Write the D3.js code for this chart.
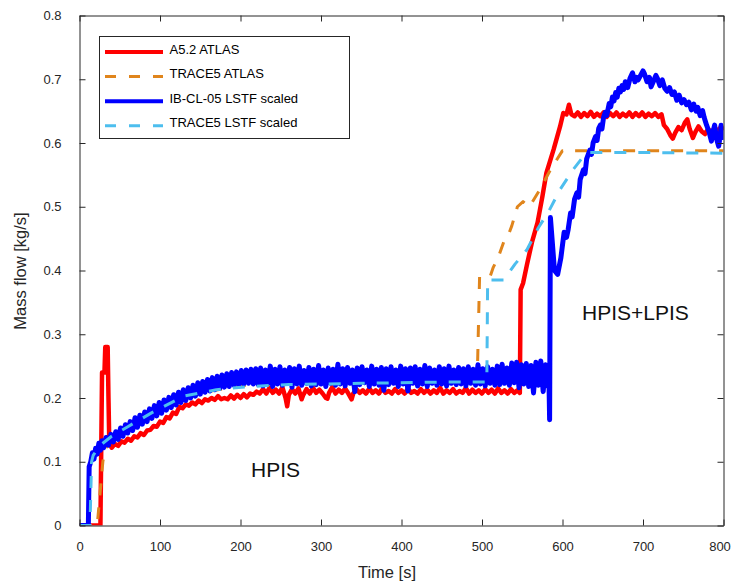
<!DOCTYPE html>
<html>
<head>
<meta charset="utf-8">
<script src="https://cdn.jsdelivr.net/npm/d3@7"></script>
<style>
  body { margin: 0; background: #fff; }
  svg { display: block; font-family: "Liberation Sans", Arial, Helvetica, sans-serif; }
  .axis path, .axis line { stroke: #262626; }
  .axis text { fill: #262626; font-size: 13px; }
</style>
</head>
<body>
<div id="chartContainer"></div>
<script>
// [time s, mass flow kg/s]
const atlasA52 = [
  [0,0],[26,0],[27,0.12],[28,0.24],[31,0.24],[32,0.28],[35,0.28],[36,0.2],[37,0.13],[40,0.122],[44,0.128],[48,0.125],
  [52,0.132],[56,0.13],[60,0.136],[64,0.133],[68,0.14],[72,0.138],[76,0.145],[80,0.142],[84,0.149],[88,0.15],[92,0.156],
  [96,0.155],[100,0.163],[104,0.161],[108,0.17],[112,0.168],[116,0.177],[120,0.175],[124,0.186],[128,0.184],[132,0.19],
  [136,0.188],[140,0.193],[144,0.19],[148,0.196],[152,0.192],[156,0.198],[160,0.196],[164,0.2],[168,0.197],[172,0.203],
  [176,0.198],[180,0.2],[184,0.198],[188,0.204],[192,0.199],[196,0.205],[200,0.2],[204,0.206],[208,0.201],[212,0.207],
  [216,0.205],[220,0.21],[224,0.207],[228,0.214],[232,0.207],[236,0.216],[240,0.208],[244,0.213],[248,0.207],[252,0.217],
  [256,0.2],[258,0.187],[260,0.205],[264,0.214],[268,0.207],[272,0.215],[276,0.198],[278,0.205],[282,0.214],[286,0.207],
  [290,0.216],[294,0.208],[298,0.213],[302,0.207],[306,0.2],[308,0.199],[310,0.208],[314,0.217],[318,0.207],[322,0.213],
  [326,0.208],[330,0.215],[334,0.207],[338,0.198],[340,0.207],[344,0.214],[348,0.208],[352,0.212],[356,0.207],[360,0.215],
  [364,0.208],[368,0.212],[372,0.207],[376,0.216],[380,0.208],[384,0.211],[388,0.207],[392,0.214],[396,0.208],[400,0.212],
  [404,0.207],[408,0.215],[412,0.208],[416,0.211],[420,0.207],[424,0.214],[428,0.208],[432,0.213],[436,0.207],[440,0.212],
  [444,0.208],[448,0.216],[452,0.207],[456,0.212],[460,0.208],[464,0.214],[468,0.207],[472,0.211],[476,0.208],[480,0.216],
  [484,0.207],[488,0.213],[492,0.208],[496,0.212],[500,0.207],[504,0.214],[508,0.208],[512,0.213],[516,0.207],[520,0.215],
  [524,0.208],[528,0.212],[532,0.207],[536,0.214],[540,0.208],[544,0.212],[547,0.208],[548,0.37],[551,0.38],[556,0.41],
  [562,0.444],[569,0.475],[575,0.516],[580,0.553],[589,0.59],[597,0.626],[601,0.647],[605,0.645],[608,0.66],[611,0.645],
  [615,0.642],[619,0.648],[623,0.641],[627,0.647],[631,0.642],[635,0.649],[639,0.641],[643,0.646],[647,0.642],[651,0.648],
  [655,0.641],[659,0.647],[663,0.642],[667,0.648],[671,0.641],[675,0.646],[679,0.642],[683,0.648],[687,0.641],[691,0.647],
  [695,0.642],[699,0.648],[703,0.641],[707,0.646],[711,0.642],[715,0.647],[719,0.641],[723,0.645],[726,0.628],[730,0.622],
  [734,0.612],[737,0.607],[740,0.616],[744,0.625],[748,0.62],[752,0.632],[755,0.637],[758,0.622],[762,0.608],[765,0.617],
  [769,0.626],[773,0.618],[777,0.614],[781,0.622],[785,0.616],[789,0.624],[793,0.618],[797,0.626],[800,0.62]
];

const trace5Atlas = [
  [0,0],[22,0],[29,0.1],[32,0.12],[36,0.128],[45,0.135],[60,0.148],[80,0.165],[100,0.18],[120,0.193],[140,0.203],
  [160,0.21],[180,0.215],[200,0.219],[230,0.221],[280,0.223],[350,0.224],[420,0.225],[494,0.226],[497,0.39],[510,0.39],
  [514,0.405],[520,0.42],[527,0.445],[531,0.45],[537,0.47],[544,0.5],[551,0.508],[559,0.5],[572,0.527],[585,0.558],
  [600,0.588],[800,0.588]
];

const ibcl05Lstf = [
  [0,0],[11,0],[12,0.092],[14,0.1],[16,0.114],[18,0.104],[20,0.121],[22,0.112],[24,0.129],[26,0.118],[28,0.133],[30,0.122],
  [33,0.138],[36,0.126],[39,0.143],[42,0.131],[45,0.147],[48,0.135],[51,0.153],[54,0.14],[57,0.158],[60,0.145],[63,0.163],
  [66,0.149],[69,0.169],[72,0.154],[75,0.173],[78,0.159],[81,0.178],[84,0.163],[87,0.183],[90,0.168],[93,0.188],[96,0.172],
  [99,0.193],[102,0.176],[105,0.197],[108,0.181],[111,0.201],[114,0.185],[117,0.205],[120,0.189],[123,0.209],[126,0.193],
  [129,0.213],[132,0.196],[135,0.216],[138,0.2],[141,0.22],[144,0.203],[147,0.224],[150,0.206],[153,0.226],[156,0.209],
  [159,0.229],[162,0.211],[165,0.232],[168,0.213],[171,0.234],[174,0.215],[177,0.236],[180,0.217],[183,0.238],[186,0.218],
  [189,0.24],[192,0.22],[195,0.241],[198,0.221],[201,0.243],[204,0.222],[207,0.244],[210,0.223],[213,0.245],[216,0.222],
  [219,0.246],[222,0.221],[225,0.247],[228,0.219],[231,0.244],[234,0.223],[237,0.25],[240,0.218],[243,0.245],[246,0.222],
  [249,0.249],[252,0.22],[255,0.244],[258,0.224],[261,0.248],[264,0.217],[267,0.246],[270,0.222],[273,0.25],[276,0.22],
  [279,0.243],[282,0.223],[285,0.248],[288,0.219],[291,0.245],[294,0.221],[297,0.251],[300,0.222],[303,0.244],[306,0.218],
  [309,0.247],[312,0.223],[315,0.245],[318,0.22],[321,0.253],[324,0.222],[327,0.246],[330,0.219],[333,0.248],[336,0.223],
  [339,0.244],[342,0.21],[345,0.247],[348,0.221],[351,0.249],[354,0.224],[357,0.244],[360,0.218],[363,0.25],[366,0.222],
  [369,0.245],[372,0.22],[375,0.248],[378,0.212],[381,0.246],[384,0.221],[387,0.249],[390,0.223],[393,0.244],[396,0.218],
  [399,0.25],[402,0.222],[405,0.246],[408,0.211],[411,0.247],[414,0.223],[417,0.249],[420,0.219],[423,0.245],[426,0.222],
  [429,0.251],[432,0.218],[435,0.247],[438,0.223],[441,0.244],[444,0.22],[447,0.249],[450,0.222],[453,0.246],[456,0.219],
  [459,0.25],[462,0.223],[465,0.244],[468,0.221],[471,0.248],[474,0.222],[477,0.246],[480,0.219],[483,0.249],[486,0.223],
  [489,0.245],[492,0.22],[495,0.252],[498,0.222],[501,0.246],[504,0.219],[507,0.249],[510,0.223],[513,0.245],[516,0.22],
  [519,0.25],[522,0.221],[525,0.253],[528,0.223],[531,0.247],[534,0.22],[537,0.255],[540,0.224],[543,0.256],[546,0.216],
  [549,0.252],[552,0.222],[555,0.254],[558,0.218],[561,0.251],[564,0.208],[567,0.256],[570,0.22],[573,0.258],[576,0.21],
  [579,0.252],[581,0.219],[583,0.24],[584,0.166],[585,0.483],[587,0.45],[590,0.4],[594,0.394],[598,0.42],[602,0.46],
  [605,0.452],[607,0.464],[610,0.49],[612,0.484],[615,0.512],[618,0.522],[620,0.515],[622,0.543],[626,0.558],[628,0.552],
  [630,0.575],[634,0.589],[636,0.582],[638,0.6],[641,0.61],[643,0.604],[645,0.623],[647,0.628],[649,0.622],[651,0.64],
  [653,0.648],[655,0.643],[658,0.662],[660,0.657],[662,0.672],[664,0.666],[666,0.679],[668,0.672],[670,0.686],[672,0.68],
  [674,0.69],[676,0.684],[678,0.696],[681,0.687],[684,0.702],[687,0.71],[690,0.696],[692,0.703],[694,0.699],[697,0.706],
  [700,0.713],[702,0.708],[705,0.696],[708,0.703],[710,0.688],[713,0.697],[716,0.706],[718,0.701],[721,0.69],[724,0.699],
  [727,0.686],[730,0.681],[733,0.687],[736,0.676],[739,0.68],[742,0.667],[745,0.675],[748,0.663],[751,0.668],[754,0.66],
  [757,0.664],[760,0.652],[763,0.661],[766,0.65],[768,0.656],[771,0.643],[774,0.651],[776,0.64],[779,0.628],[782,0.618],
  [785,0.603],[787,0.618],[789,0.628],[791,0.608],[794,0.595],[796,0.612],[797,0.628],[799,0.614],[800,0.605]
];

const trace5Lstf = [
  [0,0],[13,0],[15,0.1],[17,0.11],[25,0.125],[40,0.14],[60,0.155],[90,0.177],[130,0.203],[170,0.213],[210,0.218],
  [260,0.221],[350,0.223],[450,0.225],[506,0.225],[507,0.385],[527,0.385],[541,0.41],[556,0.433],[570,0.467],[583,0.493],
  [597,0.527],[613,0.558],[626,0.579],[632,0.585],[700,0.585],[800,0.584]
];

const seriesNames = ["A5.2 ATLAS", "TRACE5 ATLAS", "IB-CL-05 LSTF scaled", "TRACE5 LSTF scaled"];
const xTicks = [0, 100, 200, 300, 400, 500, 600, 700, 800];
const yTicks = [0, 0.1, 0.2, 0.3, 0.4, 0.5, 0.6, 0.7, 0.8];

const series = [
  { name: seriesNames[0], values: atlasA52, color: "#ff0000", width: 4.5, dash: null },
  { name: seriesNames[1], values: trace5Atlas, color: "#e0851c", width: 3, dash: "12,12" },
  { name: seriesNames[2], values: ibcl05Lstf, color: "#0000ff", width: 5, dash: null },
  { name: seriesNames[3], values: trace5Lstf, color: "#4dbeee", width: 3, dash: "12,12" }
];

const svg = d3.select("#chartContainer").append("svg").attr("width", 731).attr("height", 582);

const x = d3.scaleLinear().domain([0, 800]).range([79.5, 723.5]);
const y = d3.scaleLinear().domain([0, 0.8]).range([525.5, 15.5]);

svg.append("clipPath").attr("id", "plotClip")
  .append("rect").attr("x", 79.5).attr("y", 15.5).attr("width", 644).attr("height", 510);

const line = d3.line().x((d) => x(d[0])).y((d) => y(d[1]));

svg.append("g").attr("clip-path", "url(#plotClip)")
  .selectAll("path")
  .data(series)
  .enter()
  .append("path")
  .attr("d", (d) => line(d.values))
  .attr("fill", "none")
  .attr("stroke", (d) => d.color)
  .attr("stroke-width", (d) => d.width)
  .attr("stroke-dasharray", (d) => d.dash)
  .attr("stroke-linejoin", "round");

// axes, MATLAB style: box with inward ticks on all four sides
const xAxis = svg.append("g").attr("class", "axis").attr("transform", "translate(0,525.5)")
  .call(d3.axisBottom(x).tickValues(xTicks).tickSizeInner(-6).tickSizeOuter(0).tickPadding(16));
// keep the last label inside the page
xAxis.selectAll(".tick text").filter((d) => d === 800).attr("dx", -4);
svg.append("g").attr("class", "axis").attr("transform", "translate(0,15.5)")
  .call(d3.axisTop(x).tickValues(xTicks).tickSizeInner(-6).tickSizeOuter(0).tickFormat(""));
svg.append("g").attr("class", "axis").attr("transform", "translate(79.5,0)")
  .call(d3.axisLeft(y).tickValues(yTicks).tickSizeInner(-6).tickSizeOuter(0).tickPadding(18).tickFormat((d) => (d === 0 ? "0" : d3.format(".1f")(d))));
svg.append("g").attr("class", "axis").attr("transform", "translate(723.5,0)")
  .call(d3.axisRight(y).tickValues(yTicks).tickSizeInner(-6).tickSizeOuter(0).tickFormat(""));
svg.selectAll(".axis .domain").attr("stroke", "#262626");

svg.append("text").attr("x", 387).attr("y", 578).attr("text-anchor", "middle")
  .attr("font-size", 16.5).attr("fill", "#262626").text("Time [s]");
svg.append("text").attr("transform", "translate(26,271) rotate(-90)").attr("text-anchor", "middle")
  .attr("font-size", 16.5).attr("fill", "#262626").text("Mass flow [kg/s]");

// region annotations
svg.append("text").attr("x", 251).attr("y", 477).attr("font-size", 21).attr("fill", "#111").text("HPIS");
svg.append("text").attr("x", 582).attr("y", 320).attr("font-size", 21).attr("fill", "#111").text("HPIS+LPIS");

// legend
const legend = svg.append("g");
legend.append("rect").attr("x", 99.5).attr("y", 36.5).attr("width", 250).attr("height", 102)
  .attr("fill", "#fff").attr("stroke", "#262626").attr("stroke-width", 1);
const rows = legend.selectAll(".row").data(series).enter().append("g")
  .attr("class", "row")
  .attr("transform", (d, i) => `translate(0,${52 + i * 24.6})`);
rows.append("line").attr("x1", 105).attr("x2", 163).attr("y1", 0).attr("y2", 0)
  .attr("stroke", (d) => d.color).attr("stroke-width", (d) => (d.dash ? 3 : 4))
  .attr("stroke-dasharray", (d) => (d.dash ? "11,13" : null));
rows.append("text").attr("x", 169.5).attr("y", 1.5).attr("font-size", 13).attr("fill", "#000").text((d) => d.name);
</script>
</body>
</html>
